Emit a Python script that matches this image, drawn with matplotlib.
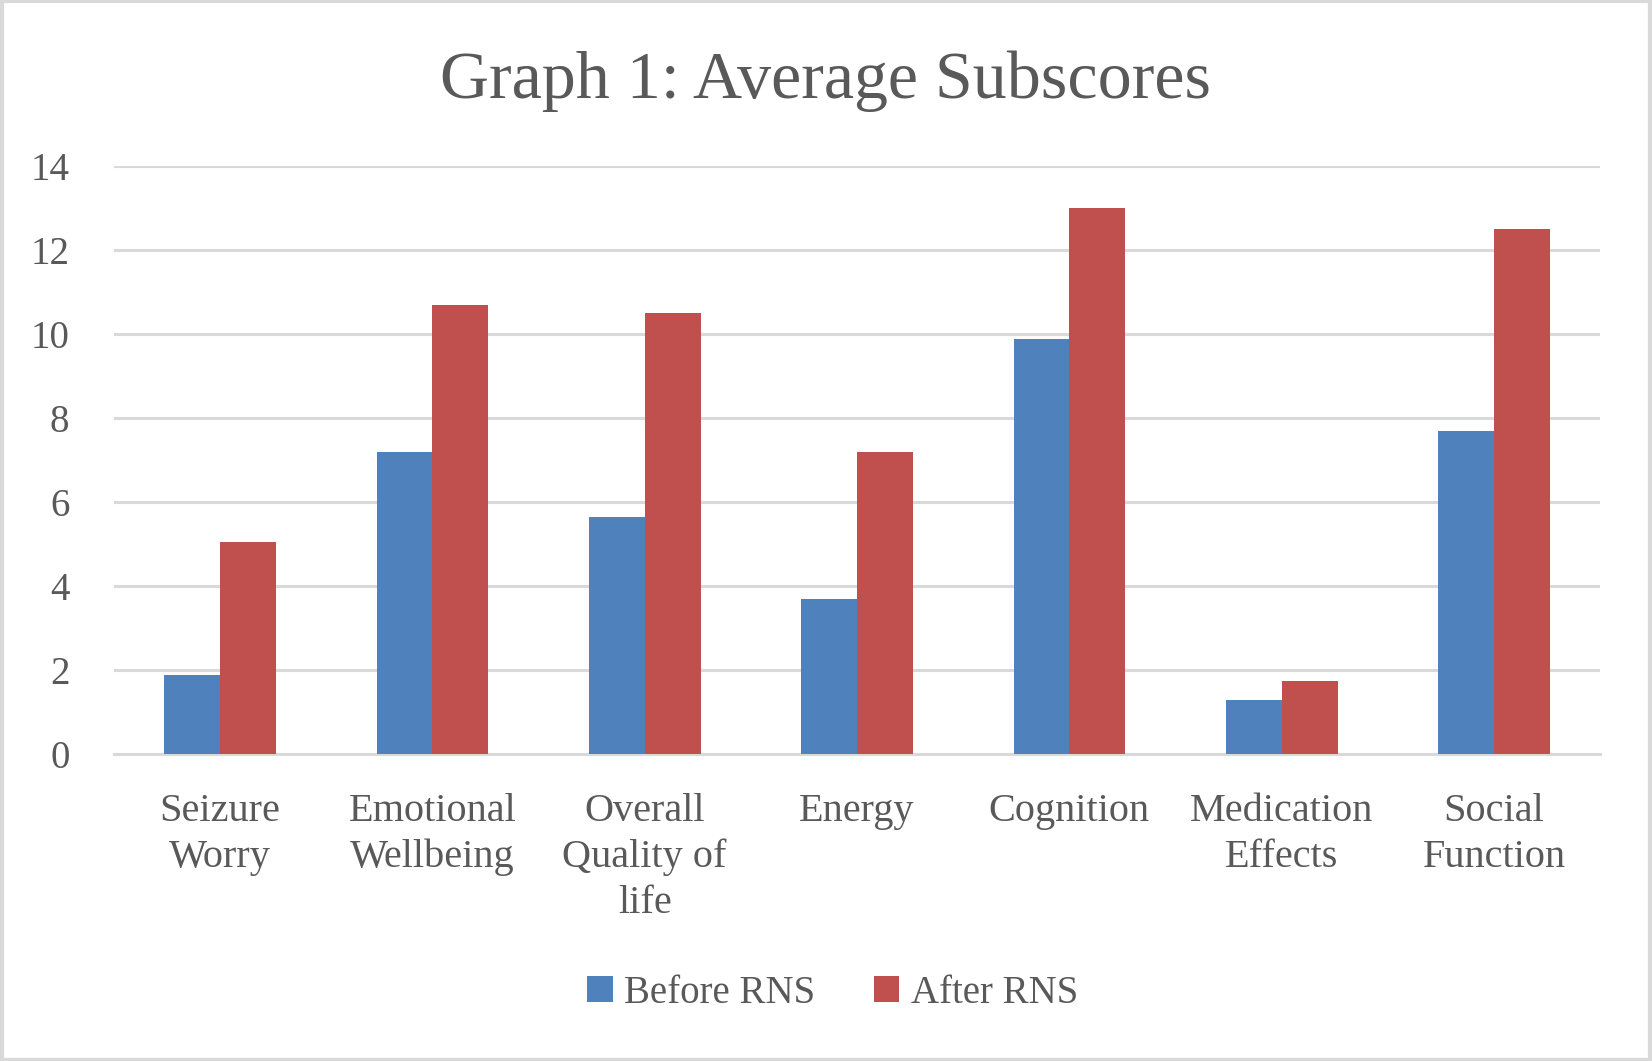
import matplotlib
matplotlib.use("Agg")
import matplotlib.pyplot as plt
from matplotlib.patches import Rectangle
import numpy as np

# data
categories = ["Seizure\nWorry", "Emotional\nWellbeing", "Overall\nQuality of\nlife",
              "Energy", "Cognition", "Medication\nEffects", "Social\nFunction"]
before_rns = [1.9, 7.2, 5.65, 3.7, 9.9, 1.3, 7.7]
after_rns = [5.05, 10.7, 10.5, 7.2, 13.0, 1.75, 12.5]

blue = "#4F81BD"
red = "#C0504D"
text_col = "#595959"
grid_col = "#D9D9D9"

plt.rcParams['font.family'] = ['Liberation Serif', 'DejaVu Serif']

fig = plt.figure(figsize=(16.52, 10.61), dpi=100)
ax = fig.add_axes([0.0689, 0.289, 0.8998, 0.5541])

x = np.arange(len(categories))
w = 0.263
ax.bar(x - w / 2, before_rns, w, color=blue, label="Before RNS", zorder=3)
ax.bar(x + w / 2, after_rns, w, color=red, label="After RNS", zorder=3)

ax.set_xlim(-0.5, len(categories) - 0.5)
ax.set_ylim(0, 14)
ax.set_yticks(range(0, 15, 2))
ax.yaxis.grid(True, color=grid_col, linewidth=2.2, zorder=0)
ax.set_axisbelow(True)
for s in ["top", "right", "left"]:
    ax.spines[s].set_visible(False)
ax.spines["bottom"].set_color(grid_col)
ax.spines["bottom"].set_linewidth(2.2)

ax.set_xticks(x)
ax.set_xticklabels(categories, fontsize=29, color=text_col, linespacing=1.3)
ax.tick_params(axis="x", length=0, pad=28)
ax.tick_params(axis="y", length=0, pad=32, labelsize=28, labelcolor=text_col)

fig.suptitle("Graph 1: Average Subscores", fontsize=49, color=text_col, y=0.952)

leg = fig.legend(loc="center", bbox_to_anchor=(0.504, 0.0636), ncol=2, frameon=False,
                 fontsize=28, handlelength=0.65, handleheight=0.65, handletextpad=0.3,
                 columnspacing=1.5)
for t in leg.get_texts():
    t.set_color(text_col)

# light border around the chart area
fig.patches.append(Rectangle((0.001, 0.001), 0.998, 0.998, transform=fig.transFigure,
                             fill=False, edgecolor=grid_col, linewidth=3))

fig.savefig("out.png", dpi=100)
